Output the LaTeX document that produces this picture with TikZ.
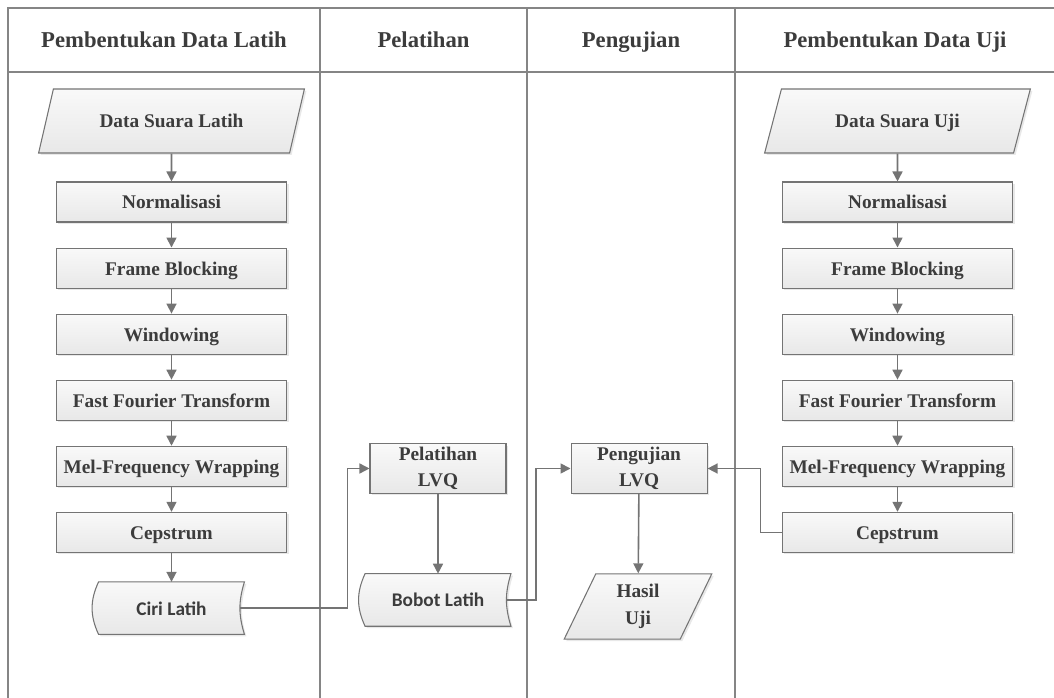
\documentclass[tikz,border=0pt]{standalone}
\usepackage{fontspec}
\setmainfont{Liberation Serif}
\newfontfamily\calibri{Carlito}
\usepackage{xcolor}
\usepackage{tikz}
\usetikzlibrary{positioning,arrows.meta,shapes.geometric,shadows,backgrounds}

\definecolor{lane}{HTML}{858585}
\definecolor{ink}{HTML}{3C3C3C}
\definecolor{edge}{HTML}{747474}
\definecolor{boxtop}{HTML}{F9F9F9}
\definecolor{boxbot}{HTML}{E8E8E8}

\begin{document}
\begin{tikzpicture}[x=0.75pt, y=-0.75pt, text=ink, font=\bfseries\fontsize{14.5}{19}\selectfont,
	proc/.style={draw=edge, line width=0.8pt, top color=boxtop, bottom color=boxbot, drop shadow={shadow xshift=1.5pt, shadow yshift=-1.5pt, opacity=0.18}, minimum width=173pt, minimum height=30pt, inner sep=0pt, align=center, text height=12.5pt, text depth=2pt},
	io/.style={proc, trapezium, trapezium left angle=65, trapezium right angle=115, trapezium stretches=true, minimum width=199.5pt, minimum height=48pt},
	twoline/.style={text height=, text depth=},
	store/.style={minimum width=109pt, minimum height=39pt, inner sep=0pt, text height=12.5pt, text depth=2pt, font=\calibri\bfseries\fontsize{14.5}{17}\selectfont},
	storeline/.style={draw=edge, line width=0.8pt, top color=boxtop, bottom color=boxbot, drop shadow={shadow xshift=1.5pt, shadow yshift=-1.5pt, opacity=0.18}},
	head/.style={anchor=base, font=\bfseries\fontsize{17}{20}\selectfont},
	arr/.style={draw=edge, line width=1.2pt, -{Triangle[length=7.5pt, width=7.5pt]}}]
	\useasboundingbox (0,0) rectangle (1054,698);
	\draw[lane, line width=1pt] (1054,8) -- (8,8) -- (8,698);
	\draw[lane, line width=1pt] (8,72) -- (1054,72);
	\foreach \x in {320,527,735}
		\draw[lane, line width=1pt] (\x,8) -- (\x,698);

	\node[head] (hlatih) at (164,48) {Pembentukan Data Latih};
	\node[head] (hpel) at (423.5,48) {Pelatihan};
	\node[head] (hpeng) at (631,48) {Pengujian};
	\node[head] (huji) at (895,48) {Pembentukan Data Uji};

	\node[io] (dsl) at (171.5,121) {Data Suara Latih};
	\node[proc] (norml) at (171.5,202) {Normalisasi};
	\node[proc, below=18.75pt of norml] (fbl) {Frame Blocking};
	\node[proc, below=18.75pt of fbl] (winl) {Windowing};
	\node[proc, below=18.75pt of winl] (fftl) {Fast Fourier Transform};
	\node[proc, below=18.75pt of fftl] (mell) {Mel-Frequency Wrapping};
	\node[proc, below=18.75pt of mell] (cepl) {Cepstrum};
	\node[store, below=21.75pt of cepl] (ciri) {Ciri Latih};

	\node[proc, twoline, minimum width=102pt, minimum height=37pt] (plvq) at (438,468.5) {Pelatihan\\LVQ};
	\node[store, below=60pt of plvq] (bobot) {Bobot Latih};
	\node[proc, twoline, minimum width=102pt, minimum height=37pt, right=48pt of plvq] (ulvq) {Pengujian\\LVQ};
	\node[io, twoline, trapezium left angle=70, trapezium right angle=110, minimum width=111pt, minimum height=49pt, font=\bfseries\fontsize{14.5}{20}\selectfont] (hasil) at (638,606.5) {Hasil\\Uji};

	\node[io] (dsu) at (897.5,121) {Data Suara Uji};
	\node[proc] (normu) at (897.5,202) {Normalisasi};
	\node[proc, below=18.75pt of normu] (fbu) {Frame Blocking};
	\node[proc, below=18.75pt of fbu] (winu) {Windowing};
	\node[proc, below=18.75pt of winu] (fftu) {Fast Fourier Transform};
	\node[proc, below=18.75pt of fftu] (melu) {Mel-Frequency Wrapping};
	\node[proc, below=18.75pt of melu] (cepu) {Cepstrum};

	\begin{pgfonlayer}{background}
		\foreach \s in {ciri,bobot}
			\path[storeline] (\s.north west) to[bend right=25] (\s.south west) -- (\s.south east) to[bend left=17] (\s.north east) -- cycle;
	\end{pgfonlayer}

	\draw[arr] (dsl) -- (norml);
	\draw[arr] (norml) -- (fbl);
	\draw[arr] (fbl) -- (winl);
	\draw[arr] (winl) -- (fftl);
	\draw[arr] (fftl) -- (mell);
	\draw[arr] (mell) -- (cepl);
	\draw[arr] (cepl) -- (ciri);

	\draw[arr] (dsu) -- (normu);
	\draw[arr] (normu) -- (fbu);
	\draw[arr] (fbu) -- (winu);
	\draw[arr] (winu) -- (fftu);
	\draw[arr] (fftu) -- (melu);
	\draw[arr] (melu) -- (cepu);

	\draw[arr] ([xshift=-3pt]ciri.east) -- ++(107,0) |- (plvq.west);
	\draw[arr] (plvq) -- (bobot);
	\draw[arr] ([xshift=-3pt]bobot.east) -- ++(29,0) |- (ulvq.west);
	\draw[arr] (cepu.west) -- ++(-21,0) |- (ulvq.east);
	\draw[arr] (ulvq) -- (hasil);
\end{tikzpicture}
\end{document}
